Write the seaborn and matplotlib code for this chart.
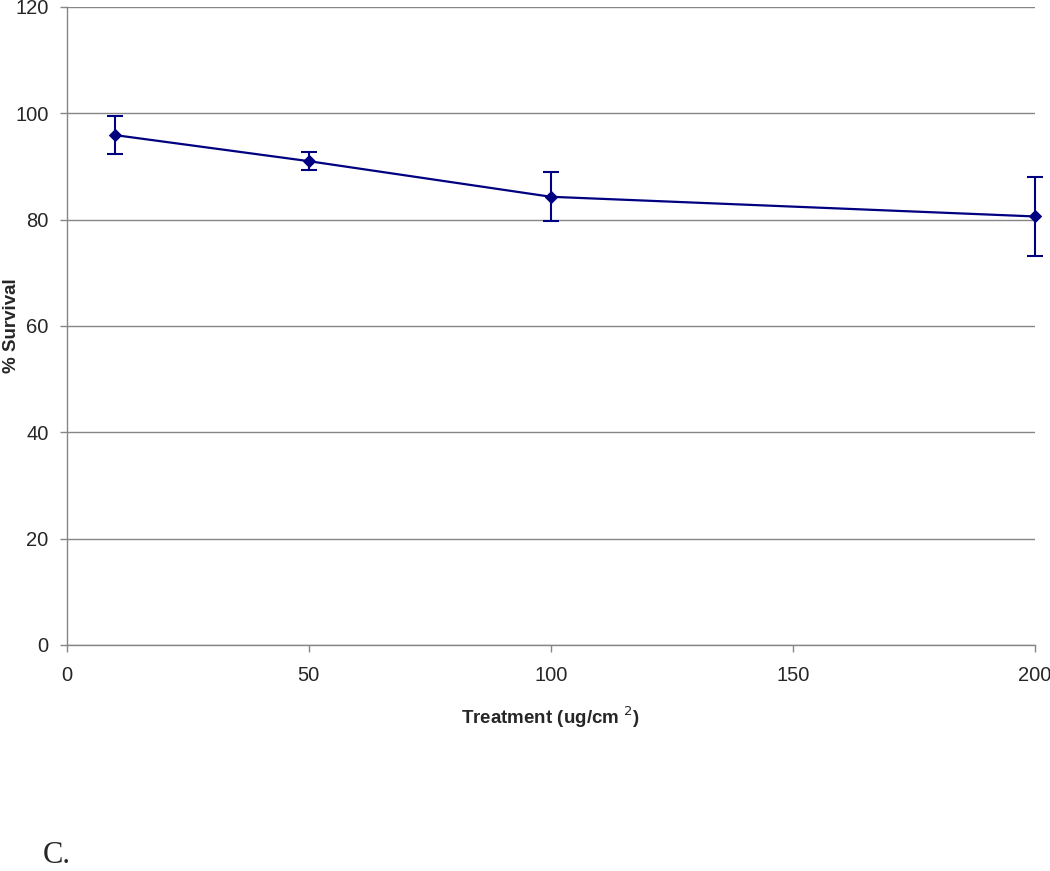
import matplotlib
matplotlib.use("Agg")
import matplotlib.pyplot as plt
import pandas as pd
import seaborn as sns

# values
treatment = [10, 50, 100, 200]
survival = [95.9, 91.0, 84.3, 80.6]
survival_err = [3.6, 1.7, 4.6, 7.4]

df = pd.DataFrame({"Treatment": treatment, "Survival": survival, "Err": survival_err})

sns.set_style("white")
plt.rcParams["font.family"] = ["Liberation Sans", "DejaVu Sans"]

fig = plt.figure(figsize=(10.5, 8.71), dpi=100)
ax = fig.add_axes([0.0635, 0.2595, 0.9222, 0.7325])

grid_col = "#868686"
line_col = "#000080"

_, caps, bars = ax.errorbar(df["Treatment"], df["Survival"], yerr=df["Err"], fmt="none",
                            ecolor=line_col, elinewidth=1.5, capsize=6, capthick=1.5,
                            zorder=3)
for c in caps:
    c.set_clip_on(False)
for b in bars:
    b.set_clip_on(False)

sns.lineplot(data=df, x="Treatment", y="Survival", ax=ax, color=line_col,
             marker="D", markersize=6, markeredgecolor=line_col, linewidth=1.6,
             zorder=4)
for ln in ax.lines:
    ln.set_clip_on(False)

ax.set_xlim(0, 200)
ax.set_ylim(0, 120)
ax.set_xticks([0, 50, 100, 150, 200])
ax.set_yticks(range(0, 121, 20))
ax.yaxis.grid(True, color=grid_col, linewidth=1)
ax.xaxis.grid(False)

for side in ["top", "right"]:
    ax.spines[side].set_visible(False)
for side in ["left", "bottom"]:
    ax.spines[side].set_color(grid_col)
    ax.spines[side].set_linewidth(1)

ax.tick_params(axis="both", which="major", labelsize=14.5, color=grid_col,
               length=5, width=1, direction="out", left=True, bottom=True,
               pad=10)
ax.tick_params(axis="y", pad=8)

ax.set_xlabel("Treatment (ug/cm $^{2}$)", fontsize=13.5, fontweight="bold", labelpad=14)
ax.set_ylabel("")
fig.text(0.011, 0.626, "% Survival", fontsize=13.5, fontweight="bold",
         rotation=90, ha="center", va="center")

fig.text(0.041, 0.009, "C.", fontsize=22, family=["Liberation Serif", "DejaVu Serif"])

fig.savefig("out.png", dpi=100)
